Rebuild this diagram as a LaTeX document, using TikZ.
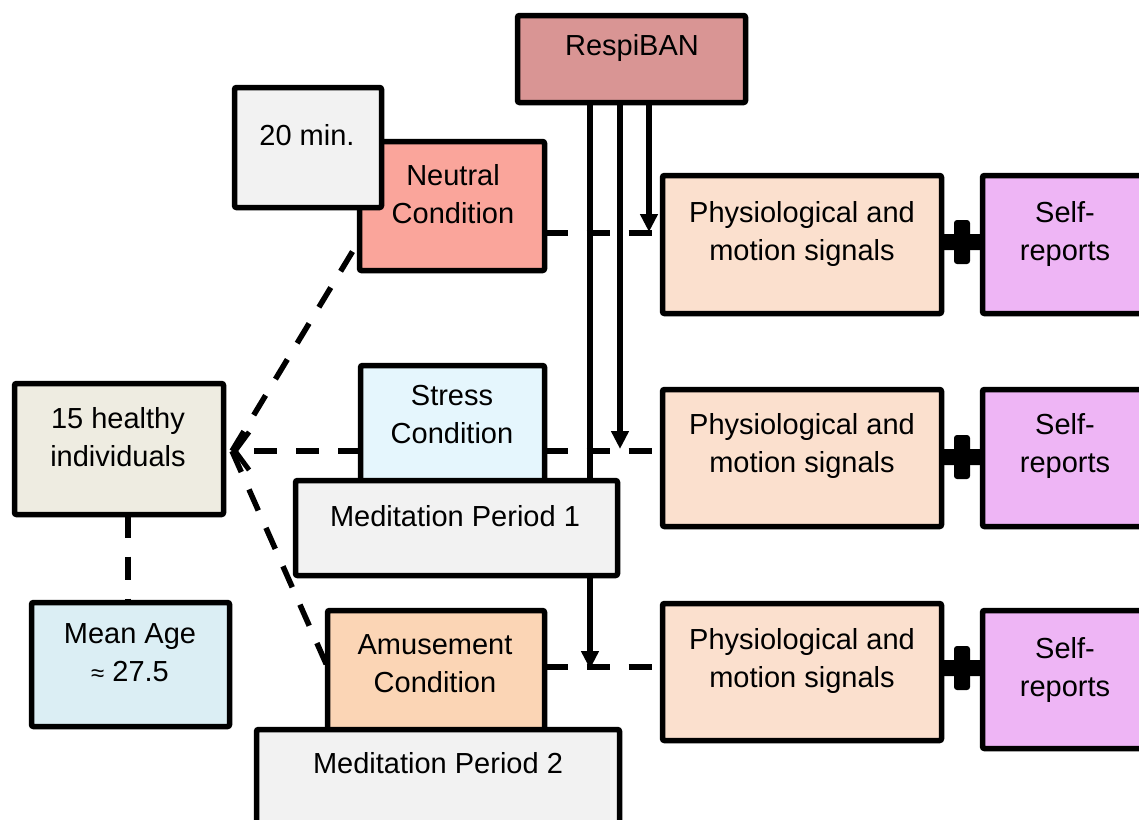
\documentclass[tikz,border=0pt]{standalone}
\usepackage{fontspec}
\setmainfont{Liberation Sans}
\usetikzlibrary{arrows.meta}
\definecolor{cRespi}{RGB}{217,149,148}
\definecolor{cNeutral}{RGB}{250,165,155}
\definecolor{cGrey}{RGB}{242,242,242}
\definecolor{cStress}{RGB}{229,246,253}
\definecolor{cAmuse}{RGB}{251,213,181}
\definecolor{cHealthy}{RGB}{238,236,225}
\definecolor{cAge}{RGB}{219,238,244}
\definecolor{cPhys}{RGB}{251,224,206}
\definecolor{cSelf}{RGB}{238,181,245}
\begin{document}
\begin{tikzpicture}[x=1pt,y=-1pt,
  box/.style={draw=black, line width=5.5pt, rounded corners=2pt, inner sep=0pt, outer sep=0pt},
  lbl/.style={font=\fontsize{29}{38}\selectfont, align=center, inner sep=0pt},
  dsh/.style={line width=5.5pt, dash pattern=on 23pt off 19pt},
  sig/.style={line width=5.5pt, -{Triangle[length=18pt,width=17pt]}},
  plusbar/.style={fill=black}]
\path[use as bounding box, clip] (0,0) rectangle (1139,819);

% box geometry (named anchors)
\path
  node[minimum width=228pt, minimum height=87pt, inner sep=0pt, outer sep=0pt] (respi) at (631.5,59) {}
  node[minimum width=185pt, minimum height=129pt, inner sep=0pt, outer sep=0pt] (neutral) at (452,206) {}
  node[minimum width=184pt, minimum height=129.5pt, inner sep=0pt, outer sep=0pt] (stress) at (452.5,430.25) {}
  node[minimum width=322pt, minimum height=95pt, inner sep=0pt, outer sep=0pt] (mp1) at (456.5,528) {}
  node[minimum width=217pt, minimum height=134.5pt, inner sep=0pt, outer sep=0pt] (amuse) at (436,677.75) {}
  node[minimum width=209pt, minimum height=131pt, inner sep=0pt, outer sep=0pt] (healthy) at (119,449) {}
  node[minimum width=198pt, minimum height=124pt, inner sep=0pt, outer sep=0pt] (meanage) at (130.5,664.5) {}
  node[minimum width=279pt, minimum height=138pt, inner sep=0pt, outer sep=0pt] (phys1) at (802,244.5) {}
  node[minimum width=279pt, minimum height=137pt, inner sep=0pt, outer sep=0pt] (phys2) at (802,458) {}
  node[minimum width=279pt, minimum height=137pt, inner sep=0pt, outer sep=0pt] (phys3) at (802,672) {};

\coordinate (hub) at (232,451);
\coordinate (va) at (590,0);
\coordinate (vb) at (620,0);
\coordinate (vc) at (649,0);
\coordinate (hx) at (128,0);
\coordinate (rowA) at (0,233);
\coordinate (rowB) at (0,451);
\coordinate (rowC) at (0,667);

% connectors
\draw[line width=5.5pt] (va |- respi.south) -- (va |- mp1.north);
\draw[sig] (va |- mp1.south) -- (va |- 0,669);
\draw[sig] (vb |- respi.south) -- (vb |- 0,449);
\draw[sig] (vc |- respi.south) -- (vc |- 0,232);

\draw[dsh] (neutral.east |- rowA) -- (phys1.west |- rowA);
\draw[dsh] (stress.east |- rowB) -- (phys2.west |- rowB);
\draw[dsh] (amuse.east |- rowC) -- (phys3.west |- rowC);

\draw[dsh, -{Straight Barb[length=14pt,width=38pt,line width=5pt]}] (stress.west |- rowB) -- (hub);
\draw[dsh] (hub) -- (neutral.west |- 0,240);
\draw[dsh] (hub) -- (amuse.west |- 0,667);
\draw[dsh] (hx |- healthy.south) -- (hx |- meanage.north);

% boxes
\node[box, fill=cRespi, minimum width=228pt, minimum height=87pt] (respiB) at (respi) {};
\node[box, fill=cNeutral, minimum width=185pt, minimum height=129pt] (neutralB) at (neutral) {};
\node[box, fill=cGrey, minimum width=147pt, minimum height=120pt] (twenty) at (308,147.5) {};
\node[box, fill=cStress, minimum width=184pt, minimum height=129.5pt] (stressB) at (stress) {};
\node[box, fill=cGrey, minimum width=322pt, minimum height=95pt] (mp1B) at (mp1) {};
\node[box, fill=cAmuse, minimum width=217pt, minimum height=134.5pt] (amuseB) at (amuse) {};
\node[box, fill=cGrey, minimum width=363pt, minimum height=110.5pt] (mp2) at (438,784.75) {};
\node[box, fill=cHealthy, minimum width=209pt, minimum height=131pt] (healthyB) at (healthy) {};
\node[box, fill=cAge, minimum width=198pt, minimum height=124pt] (meanageB) at (meanage) {};
\node[box, fill=cPhys, minimum width=279pt, minimum height=138pt] (phys1B) at (phys1) {};
\node[box, fill=cPhys, minimum width=279pt, minimum height=137pt] (phys2B) at (phys2) {};
\node[box, fill=cPhys, minimum width=279pt, minimum height=137pt] (phys3B) at (phys3) {};
\node[box, fill=cSelf, minimum width=177.5pt, minimum height=138pt] (self1) at (1071.25,244.5) {};
\node[box, fill=cSelf, minimum width=177.5pt, minimum height=137pt] (self2) at (1071.25,458) {};
\node[box, fill=cSelf, minimum width=177.5pt, minimum height=138pt] (self3) at (1071.25,679.5) {};

% plus signs
\foreach \c in {242,457,668}{
  \fill[plusbar, rounded corners=3pt] (954,\c-22) rectangle (970,\c+22);
  \fill[plusbar, rounded corners=2pt] (941,\c-8) rectangle (983,\c+8);
}

% labels
\node[lbl] (tRespi) at (632,48) {RespiBAN};
\node[lbl] (tTwenty) at (307,135) {20 min.};
\node[lbl] (tNeutral) at (453,194) {Neutral\\Condition};
\node[lbl] (tStress) at (452,415) {Stress\\Condition};
\node[lbl] (tMp1) at (455,516) {Meditation Period 1};
\node[lbl] (tAmuse) at (435,663.5) {Amusement\\Condition};
\node[lbl] (tMp2) at (438,763) {Meditation Period 2};
\node[lbl] (tHealthy) at (118,437.5) {15 healthy\\individuals};
\node[lbl] (tAge) at (130,652.5) {Mean Age\\{\fontsize{24}{38}\selectfont ≈} 27.5};
\node[lbl] (tPhys1) at (802,233.5) {Physiological and\\motion signals};
\node[lbl] (tPhys2) at (802,446) {Physiological and\\motion signals};
\node[lbl] (tPhys3) at (802,661) {Physiological and\\motion signals};
\node[lbl] (tSelf1) at (1065,233.5) {Self-\\reports};
\node[lbl] (tSelf2) at (1065,446) {Self-\\reports};
\node[lbl] (tSelf3) at (1065,669.5) {Self-\\reports};
\end{tikzpicture}
\end{document}
